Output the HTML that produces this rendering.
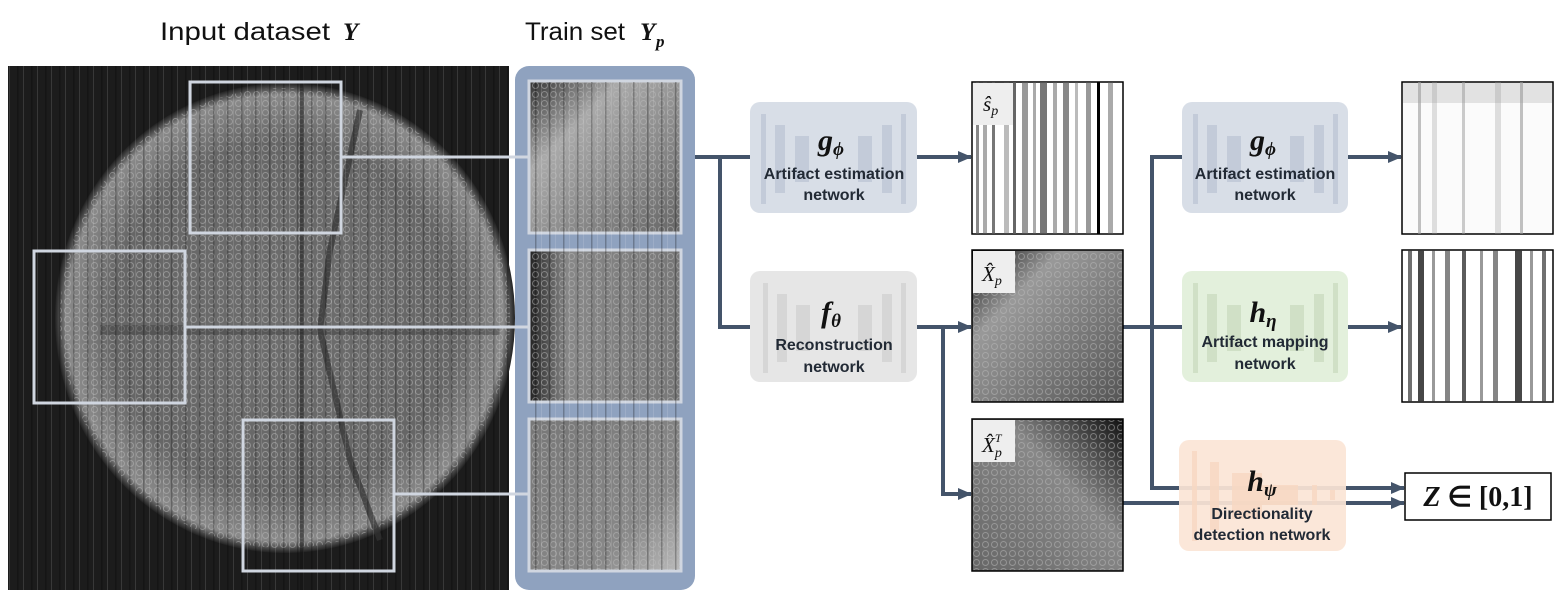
<!DOCTYPE html>
<html><head><meta charset="utf-8"><style>
html,body{margin:0;padding:0;background:#fff;}
svg{display:block;}
.lab{font-family:"Liberation Sans",sans-serif;font-weight:bold;font-size:16px;fill:#222a35;text-anchor:middle;}
.math{font-family:"Liberation Serif",serif;font-style:italic;font-weight:bold;}
.ser{font-family:"Liberation Serif",serif;font-style:italic;}
.sans{font-family:"Liberation Sans",sans-serif;}
</style></head><body>
<svg width="1554" height="594" viewBox="0 0 1554 594" xmlns="http://www.w3.org/2000/svg">
<defs>
<radialGradient id="brain" cx="0.5" cy="0.5" r="0.5">
<stop offset="0" stop-color="#6e6e6e"/><stop offset="0.75" stop-color="#666"/><stop offset="0.95" stop-color="#8a8a8a"/><stop offset="1" stop-color="#222"/>
</radialGradient>
<pattern id="cells" width="9" height="9" patternUnits="userSpaceOnUse">
<circle cx="4.5" cy="4.5" r="3" fill="none" stroke="#bbb" stroke-width="1" opacity="0.5"/>
</pattern>
<pattern id="streak" width="14" height="10" patternUnits="userSpaceOnUse">
<rect x="3" width="1.5" height="10" fill="#000" opacity="0.25"/><rect x="9" width="1" height="10" fill="#fff" opacity="0.12"/>
</pattern>
<linearGradient id="tile1" x1="0" y1="0" x2="1" y2="1"><stop offset="0" stop-color="#333"/><stop offset="0.3" stop-color="#aaa"/><stop offset="1" stop-color="#666"/></linearGradient>
<linearGradient id="tile2" x1="0" y1="0" x2="1" y2="0"><stop offset="0" stop-color="#222"/><stop offset="0.25" stop-color="#888"/><stop offset="1" stop-color="#777"/></linearGradient>
<linearGradient id="tile3" x1="0" y1="0" x2="1" y2="1"><stop offset="0" stop-color="#777"/><stop offset="0.7" stop-color="#888"/><stop offset="1" stop-color="#bbb"/></linearGradient>
<linearGradient id="xp" x1="0" y1="0" x2="1" y2="1"><stop offset="0" stop-color="#111"/><stop offset="0.3" stop-color="#999"/><stop offset="1" stop-color="#555"/></linearGradient>
<linearGradient id="xpt" x1="1" y1="0" x2="0" y2="1"><stop offset="0" stop-color="#111"/><stop offset="0.4" stop-color="#888"/><stop offset="1" stop-color="#666"/></linearGradient>
<marker id="ar" markerWidth="14" markerHeight="14" refX="13" refY="7" orient="auto" markerUnits="userSpaceOnUse" viewBox="0 0 14 14"><path d="M0,1 L14,7 L0,13 z" fill="#44546a"/></marker>
</defs>

<text x="160" y="40" font-size="25" class="sans" fill="#111" textLength="170" lengthAdjust="spacingAndGlyphs">Input dataset</text>
<text x="343" y="40" font-size="25" class="math" fill="#111">Y</text>
<text x="525" y="40" font-size="25" class="sans" fill="#111" textLength="100" lengthAdjust="spacingAndGlyphs">Train set</text>
<text x="640" y="40" font-size="25" class="math" fill="#111">Y</text>
<text x="656" y="47" font-size="17" class="math" fill="#111">p</text>

<!-- input image -->
<rect x="8" y="66" width="501" height="524" fill="#1c1c1c"/>
<ellipse cx="285" cy="318" rx="230" ry="235" fill="url(#brain)"/>
<ellipse cx="285" cy="318" rx="225" ry="230" fill="url(#cells)"/>
<path d="M360 110 L330 250 L320 330 L350 460 L380 540" stroke="#333" stroke-width="6" fill="none" opacity="0.7"/>
<path d="M100 330 L500 330" stroke="#3a3a3a" stroke-width="10" opacity="0.4"/>
<rect x="8" y="66" width="501" height="524" fill="url(#streak)"/>
<rect x="300" y="66" width="4" height="524" fill="#111" opacity="0.5"/>

<!-- train panel -->
<rect x="515" y="66" width="180" height="524" rx="14" fill="#8fa2bf"/>
<rect x="529" y="81" width="152" height="152" fill="url(#tile1)" stroke="#d0d6e0" stroke-width="3"/>
<rect x="529" y="250" width="152" height="152" fill="url(#tile2)" stroke="#d0d6e0" stroke-width="3"/>
<rect x="529" y="419" width="152" height="152" fill="url(#tile3)" stroke="#d0d6e0" stroke-width="3"/>
<rect x="530" y="82" width="150" height="150" fill="url(#cells)"/>
<rect x="530" y="251" width="150" height="150" fill="url(#cells)"/>
<rect x="530" y="420" width="150" height="150" fill="url(#cells)"/>
<rect x="531" y="82" width="148" height="488" fill="url(#streak)"/>

<!-- crop boxes -->
<g fill="none" stroke="#d0d6e0" stroke-width="3">
<rect x="190" y="82" width="151" height="151"/>
<rect x="34" y="251" width="151" height="152"/>
<rect x="243" y="420" width="151" height="151"/>
<line x1="341" y1="157" x2="529" y2="157"/>
<line x1="185" y1="327" x2="529" y2="327"/>
<line x1="394" y1="494" x2="529" y2="494"/>
</g>

<!-- connectors -->
<g stroke="#44546a" stroke-width="4" fill="none">
<polyline points="695,157 720,157 720,327 750,327"/>
<line x1="695" y1="157" x2="750" y2="157"/>
<line x1="917" y1="157" x2="971" y2="157" marker-end="url(#ar)"/>
<line x1="917" y1="327" x2="971" y2="327" marker-end="url(#ar)"/>
<polyline points="943,327 943,494 971,494" marker-end="url(#ar)"/>
<line x1="1123" y1="327" x2="1182" y2="327"/>
<polyline points="1182,157 1152,157 1152,488 1404,488" marker-end="url(#ar)"/>
<line x1="1123" y1="503" x2="1404" y2="503" marker-end="url(#ar)"/>
<line x1="1348" y1="157" x2="1401" y2="157" marker-end="url(#ar)"/>
<line x1="1348" y1="327" x2="1401" y2="327" marker-end="url(#ar)"/>
</g>

<!-- network boxes -->
<g>
<rect x="750" y="102" width="167" height="111" rx="10" fill="#d6dce6" opacity="0.95"/>
<g fill="#c3cbd9"><rect x="761" y="114" width="5" height="90"/><rect x="775" y="125" width="10" height="68"/><rect x="795" y="136" width="14" height="46"/><rect x="858" y="136" width="14" height="46"/><rect x="882" y="125" width="10" height="68"/><rect x="901" y="114" width="5" height="90"/></g>
<text x="831" y="150" font-size="30" class="math" fill="#111" text-anchor="middle">g<tspan font-size="19" dy="5">ϕ</tspan></text>
<text x="834" y="179" class="lab">Artifact estimation</text><text x="834" y="200" class="lab">network</text>

<rect x="750" y="271" width="167" height="111" rx="10" fill="#e6e6e6"/>
<g fill="#d6d6d6"><rect x="763" y="283" width="5" height="90"/><rect x="777" y="294" width="10" height="68"/><rect x="796" y="305" width="14" height="46"/><rect x="858" y="305" width="14" height="46"/><rect x="882" y="294" width="10" height="68"/><rect x="901" y="283" width="5" height="90"/></g>
<text x="831" y="322" font-size="30" class="math" fill="#111" text-anchor="middle">f<tspan font-size="19" dy="5">θ</tspan></text>
<text x="834" y="350" class="lab">Reconstruction</text><text x="834" y="372" class="lab">network</text>

<rect x="1182" y="102" width="166" height="111" rx="10" fill="#d6dce6" opacity="0.95"/>
<g fill="#c3cbd9"><rect x="1193" y="114" width="5" height="90"/><rect x="1207" y="125" width="10" height="68"/><rect x="1227" y="136" width="14" height="46"/><rect x="1290" y="136" width="14" height="46"/><rect x="1314" y="125" width="10" height="68"/><rect x="1333" y="114" width="5" height="90"/></g>
<text x="1263" y="150" font-size="30" class="math" fill="#111" text-anchor="middle">g<tspan font-size="19" dy="5">ϕ</tspan></text>
<text x="1265" y="179" class="lab">Artifact estimation</text><text x="1265" y="200" class="lab">network</text>

<rect x="1182" y="271" width="166" height="111" rx="10" fill="#e2efda" opacity="0.95"/>
<g fill="#d0e0c6"><rect x="1193" y="283" width="5" height="90"/><rect x="1207" y="294" width="10" height="68"/><rect x="1227" y="305" width="14" height="46"/><rect x="1290" y="305" width="14" height="46"/><rect x="1314" y="294" width="10" height="68"/><rect x="1333" y="283" width="5" height="90"/></g>
<text x="1263" y="322" font-size="30" class="math" fill="#111" text-anchor="middle">h<tspan font-size="19" dy="5">η</tspan></text>
<text x="1265" y="347" class="lab">Artifact mapping</text><text x="1265" y="369" class="lab">network</text>

<rect x="1179" y="440" width="167" height="111" rx="10" fill="#fbe5d6" opacity="0.92"/>
<g fill="#f8d8c2" opacity="0.8"><rect x="1192" y="451" width="5" height="90"/><rect x="1210" y="462" width="9" height="68"/><rect x="1232" y="473" width="30" height="46"/><rect x="1262" y="485" width="36" height="20"/><rect x="1312" y="485" width="5" height="20"/><rect x="1330" y="490" width="5" height="10"/></g>
<text x="1262" y="491" font-size="30" class="math" fill="#111" text-anchor="middle">h<tspan font-size="19" dy="5">ψ</tspan></text>
<text x="1262" y="519" class="lab">Directionality</text><text x="1262" y="540" class="lab">detection network</text>
</g>

<!-- S_p -->
<rect x="972" y="82" width="151" height="152" fill="#fff" stroke="#000" stroke-width="1.5"/>
<g fill="#555">
<rect x="976" y="82" width="3" height="152" opacity="0.7"/><rect x="983" y="82" width="4" height="152" opacity="0.5"/><rect x="992" y="82" width="3" height="152" opacity="0.8"/><rect x="1004" y="82" width="5" height="152" opacity="0.4"/><rect x="1013" y="82" width="3" height="152" opacity="0.9"/><rect x="1022" y="82" width="6" height="152" opacity="0.6"/><rect x="1033" y="82" width="3" height="152" opacity="0.5"/><rect x="1040" y="82" width="7" height="152" opacity="0.8"/><rect x="1053" y="82" width="4" height="152" opacity="0.5"/><rect x="1063" y="82" width="6" height="152" opacity="0.7"/><rect x="1075" y="82" width="3" height="152" opacity="0.4"/><rect x="1086" y="82" width="5" height="152" opacity="0.6"/><rect x="1097" y="82" width="3" height="152" fill="#000"/><rect x="1108" y="82" width="5" height="152" opacity="0.5"/>
</g>
<rect x="973" y="83" width="40" height="42" fill="#eee"/>
<text x="983" y="111" font-size="21" class="ser" fill="#111">ŝ<tspan font-size="14" dy="4">p</tspan></text>

<!-- X_p -->
<rect x="972" y="250" width="151" height="152" fill="url(#xp)" stroke="#000" stroke-width="1.5"/>
<rect x="973" y="251" width="149" height="150" fill="url(#cells)"/>
<rect x="973" y="251" width="42" height="42" fill="#eee"/>
<text x="982" y="281" font-size="21" class="ser" fill="#111">X̂<tspan font-size="14" dy="4">p</tspan></text>

<!-- X_p^T -->
<rect x="972" y="419" width="151" height="152" fill="url(#xpt)" stroke="#000" stroke-width="1.5"/>
<rect x="973" y="420" width="149" height="150" fill="url(#cells)"/>
<rect x="973" y="420" width="42" height="42" fill="#eee"/>
<text x="982" y="452" font-size="21" class="ser" fill="#111">X̂<tspan font-size="14" dy="5">p</tspan><tspan font-size="12" dx="-7" dy="-15">T</tspan></text>

<!-- outputs -->
<rect x="1402" y="82" width="151" height="152" fill="#fbfbfb" stroke="#000" stroke-width="1.5"/>
<g fill="#999"><rect x="1418" y="82" width="3" height="152" opacity="0.6"/><rect x="1432" y="82" width="5" height="152" opacity="0.3"/><rect x="1462" y="82" width="3" height="152" opacity="0.5"/><rect x="1495" y="82" width="6" height="152" opacity="0.3"/><rect x="1520" y="82" width="3" height="152" opacity="0.6"/><rect x="1403" y="83" width="149" height="20" opacity="0.25"/></g>
<rect x="1402" y="250" width="151" height="152" fill="#fff" stroke="#000" stroke-width="1.5"/>
<g fill="#333"><rect x="1408" y="250" width="4" height="152" opacity="0.7"/><rect x="1418" y="250" width="6" height="152" opacity="0.9"/><rect x="1432" y="250" width="3" height="152" opacity="0.5"/><rect x="1445" y="250" width="5" height="152" opacity="0.6"/><rect x="1462" y="250" width="4" height="152" opacity="0.8"/><rect x="1480" y="250" width="3" height="152" opacity="0.5"/><rect x="1493" y="250" width="5" height="152" opacity="0.6"/><rect x="1515" y="250" width="7" height="152" opacity="0.9"/><rect x="1530" y="250" width="3" height="152" opacity="0.5"/><rect x="1542" y="250" width="4" height="152" opacity="0.7"/></g>

<!-- Z box -->
<rect x="1405" y="473" width="146" height="47" fill="#fff" stroke="#000" stroke-width="1.5"/>
<text x="1478" y="506" font-size="28" style="font-family:'Liberation Serif',serif;font-weight:bold" fill="#111" text-anchor="middle"><tspan font-style="italic">Z</tspan> ∈ [0,1]</text>
</svg>
</body></html>
